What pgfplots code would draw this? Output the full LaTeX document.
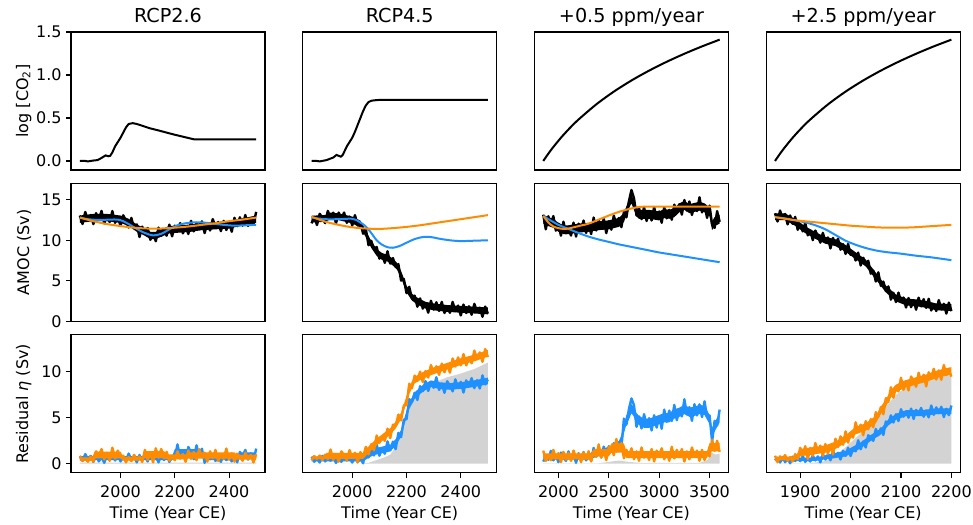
\documentclass[border=0pt]{standalone}
\usepackage{fontspec}
\setmainfont{DejaVu Sans}
\usepackage{pgfplots}
\pgfplotsset{compat=1.18}
\usepgfplotslibrary{groupplots}
\definecolor{amocBlue}{HTML}{1E90FF}
\definecolor{amocOrange}{HTML}{FF8C00}
\definecolor{shade}{HTML}{D3D3D3}
\pgfplotsset{
  panel/.style={
    scale only axis, width=145.5pt, height=103.5pt,
    axis line style={line width=0.8pt},
    tick align=outside, major tick length=3.5pt,
    every tick/.style={black, line width=0.8pt},
    xtick pos=bottom, ytick pos=left,
    ticklabel style={font=\fontsize{12}{14}\selectfont},
    xticklabel style={yshift=-2.5pt},
    /pgf/number format/assume math mode=true,
    /pgf/number format/1000 sep={},
    every axis title shift=0pt,
    title style={font=\fontsize{14.4}{17}\selectfont, at={(axis description cs:0.5,1)},
                 anchor=base, yshift=7.2pt, inner sep=0pt},
    every axis y label/.style={at={(axis description cs:-0.203,0.5)}, anchor=south,
                               rotate=90, inner sep=0pt, font=\fontsize{12}{14}\selectfont},
    every axis x label/.style={at={(axis description cs:0.5,0)}, anchor=base,
                               yshift=-34pt, inner sep=0pt, font=\fontsize{12}{14}\selectfont},
    xtick=\empty, ytick=\empty,
  },
  rowA/.style={ymin=-0.105, ymax=1.5},
  rowB/.style={ymin=0, ymax=17},
  rowC/.style={ymin=-1, ymax=14},
  colRCP/.style={xmin=1817.5, xmax=2532.5},
  colSlow/.style={xmin=1762.5, xmax=3687.5},
  colFast/.style={xmin=1832.5, xmax=2217.5},
  co2/.style={black, line width=1.5pt},
  noisy/.style={black, line width=1.8pt, line join=round},
  core/.style={fill=#1, draw=none},
  fitB/.style={amocBlue, line width=1.5pt, smooth},
  fitO/.style={amocOrange, line width=1.5pt, smooth},
  resB/.style={amocBlue, line width=1.8pt, line join=round},
  resO/.style={amocOrange, line width=1.8pt, line join=round},
  grey/.style={fill=shade, draw=none},
}
\begin{document}
\begin{tikzpicture}
\begin{groupplot}[group style={group size=4 by 3, horizontal sep=28.3pt, vertical sep=10.1pt},
                  panel]
% ---------- row 1: CO2 forcing
\nextgroupplot[rowA, colRCP, title={RCP2.6}, ylabel={log [CO\textsubscript{2}]},
  ytick={0,0.5,1,1.5},
  yticklabel style={/pgf/number format/.cd, fixed, fixed zerofill, precision=1}]
\addplot[co2] coordinates {(1850,0)(1870,0)(1880,-0.005)(1890,0.0)(1900,0.005)(1915,0.01)
  (1930,0.035)(1945,0.065)(1955,0.055)(1962,0.06)(1970,0.1)(1980,0.17)(1990,0.22)(2000,0.27)
  (2010,0.33)(2020,0.39)(2030,0.43)(2045,0.44)(2060,0.43)(2080,0.41)(2108,0.38)(2140,0.355)
  (2170,0.33)(2200,0.305)(2240,0.275)(2273,0.25)(2500,0.25)};
\nextgroupplot[rowA, colRCP, title={RCP4.5}]
\addplot[co2] coordinates {(1850,0)(1870,0)(1880,-0.005)(1905,0.01)(1930,0.04)(1942,0.07)
  (1958,0.05)(1965,0.07)(1980,0.17)(1990,0.22)(2000,0.27)(2010,0.34)(2020,0.42)(2030,0.5)
  (2040,0.58)(2050,0.645)(2060,0.685)(2070,0.70)(2080,0.705)(2100,0.71)(2500,0.71)};
\nextgroupplot[rowA, colSlow, title={+0.5 ppm/year}]
\addplot[co2, smooth] coordinates {(1850,0)(1893.75,0.0746)(1937.5,0.1441)(2025,0.27)
  (2112.5,0.3819)(2200,0.4824)(2375,0.6575)(2550,0.8065)(2725,0.9361)(2900,1.0508)
  (3075,1.1537)(3250,1.247)(3425,1.3324)(3600,1.411)};
\nextgroupplot[rowA, colFast, title={+2.5 ppm/year}]
\addplot[co2, smooth] coordinates {(1850,0)(1858.75,0.0746)(1867.5,0.1441)(1885,0.27)
  (1902.5,0.3819)(1920,0.4824)(1955,0.6575)(1990,0.8065)(2025,0.9361)(2060,1.0508)
  (2095,1.1537)(2130,1.247)(2165,1.3324)(2200,1.411)};
% ---------- row 2: AMOC and the two fits
\nextgroupplot[rowB, colRCP, ylabel={AMOC (Sv)}, ytick={0,5,10,15}]
\addplot[core=black] coordinates {(1850,13.05)(1900,13.25)(1950,13.25)(2000,13.05)(2030,12.65)
  (2060,11.95)(2090,11.45)(2110,11.05)(2130,11.05)(2150,11.35)(2180,11.75)(2220,11.85)
  (2260,11.95)(2300,12.15)(2350,12.25)(2400,12.35)(2440,12.65)(2470,12.85)(2500,13.05)
  (2500,12.15)(2470,11.95)(2440,11.75)(2400,11.45)(2350,11.35)(2300,11.25)(2260,11.05)
  (2220,10.95)(2180,10.85)(2150,10.45)(2130,10.15)(2110,10.15)(2090,10.55)(2060,11.05)
  (2030,11.75)(2000,12.15)(1950,12.35)(1900,12.35)(1850,12.15)};
\addplot[noisy] coordinates {(1850,13.05)(1860,12.01)(1870,13.49)(1880,12.54)(1890,13.12)
  (1900,11.99)(1910,13.34)(1920,12.54)(1930,13.62)(1940,12.08)(1950,12.98)(1960,12.25)
  (1970,13.6)(1980,12.16)(1990,12.87)(2000,11.79)(2010,13.08)(2020,12.39)(2030,11.57)
  (2040,12.76)(2050,11.48)(2060,11.95)(2070,10.4)(2080,11.69)(2090,10.82)(2100,11.52)
  (2110,10.06)(2120,10.86)(2130,9.88)(2140,11.56)(2150,10.54)(2160,11.23)(2170,10.57)
  (2180,11.93)(2190,10.49)(2200,11.8)(2210,11.31)(2220,12.12)(2230,10.86)(2240,11.72)
  (2250,10.78)(2260,12.4)(2270,11.1)(2280,12.14)(2290,11.38)(2300,12.33)(2310,10.89)
  (2320,12.11)(2330,11.21)(2340,12.61)(2350,11.62)(2360,12.25)(2370,11.13)(2380,12.39)
  (2390,11.27)(2400,12.17)(2410,11.05)(2420,12.77)(2430,11.74)(2440,12.83)(2450,11.8)
  (2460,13.11)(2470,11.77)(2480,12.63)(2490,12.01)(2500,13.5)};
\addplot[fitB] coordinates {(1850,12.8)(1880,12.6)(1920,12.5)(1960,12.55)(1990,12.55)
  (2010,12.35)(2030,12.0)(2060,11.4)(2090,10.9)(2120,10.6)(2150,10.8)(2180,11.35)(2210,11.85)
  (2240,12.1)(2270,12.2)(2300,12.2)(2340,12.05)(2380,11.9)(2420,11.8)(2460,11.85)(2500,11.9)};
\addplot[fitO] coordinates {(1850,12.8)(1900,12.35)(1950,12.0)(2000,11.75)(2050,11.55)
  (2100,11.45)(2150,11.45)(2200,11.55)(2250,11.7)(2300,11.9)(2350,12.1)(2400,12.35)
  (2450,12.55)(2500,12.8)};
\nextgroupplot[rowB, colRCP]
\addplot[core=black] coordinates {(1850,13.02)(1900,13.12)(1920,13.42)(1950,13.32)(2000,12.92)
  (2030,12.42)(2050,11.22)(2070,9.92)(2090,8.92)(2110,8.42)(2130,8.22)(2150,7.72)(2165,7.22)
  (2180,6.22)(2200,4.42)(2220,3.42)(2240,2.92)(2270,2.42)(2300,2.22)(2350,2.02)(2400,1.92)
  (2450,1.82)(2500,1.72)(2500,0.88)(2450,0.98)(2400,1.08)(2350,1.18)(2300,1.38)(2270,1.58)
  (2240,2.08)(2220,2.58)(2200,3.58)(2180,5.38)(2165,6.38)(2150,6.88)(2130,7.38)(2110,7.58)
  (2090,8.08)(2070,9.08)(2050,10.38)(2030,11.58)(2000,12.08)(1950,12.48)(1920,12.58)
  (1900,12.28)(1850,12.18)};
\addplot[noisy] coordinates {(1850,12.09)(1860,12.88)(1870,11.88)(1880,13.26)(1890,12.77)
  (1900,12.11)(1910,13.62)(1920,12.75)(1930,13.4)(1940,12.08)(1950,13.41)(1960,12.65)
  (1970,13.42)(1980,12.15)(1990,12.92)(2000,11.82)(2010,13.1)(2020,11.83)(2030,12.17)
  (2040,10.81)(2050,11.4)(2060,9.39)(2070,9.93)(2080,8.92)(2090,9.18)(2100,7.74)(2110,8.26)
  (2120,7.22)(2130,8.65)(2140,7.13)(2150,7.81)(2160,6.72)(2170,7.07)(2180,5.04)(2190,5.24)
  (2200,3.49)(2210,4.27)(2220,2.83)(2230,3.18)(2240,1.82)(2250,2.84)(2260,1.58)(2270,2.26)
  (2280,1.08)(2290,2.55)(2300,1.46)(2310,2.36)(2320,1.3)(2330,2.41)(2340,1.05)(2350,1.77)
  (2360,1.07)(2370,2.41)(2380,1.29)(2390,1.95)(2400,0.74)(2410,2.08)(2420,1.04)(2430,1.87)
  (2440,0.83)(2450,2.17)(2460,1.21)(2470,1.7)(2480,0.58)(2490,1.83)(2500,0.96)};
\addplot[fitB] coordinates {(1850,12.8)(1900,12.6)(1950,12.6)(2000,12.65)(2025,12.3)
  (2050,11.7)(2070,10.9)(2090,10.0)(2110,9.45)(2130,9.15)(2150,9.08)(2175,9.3)(2200,9.7)
  (2230,10.15)(2260,10.4)(2290,10.4)(2320,10.2)(2360,10.0)(2400,9.9)(2450,9.95)(2500,10.0)};
\addplot[fitO] coordinates {(1850,12.9)(1900,12.3)(1950,11.9)(2000,11.6)(2050,11.45)
  (2100,11.4)(2150,11.5)(2200,11.65)(2250,11.85)(2300,12.1)(2350,12.35)(2400,12.6)
  (2450,12.85)(2500,13.1)};
\nextgroupplot[rowB, colSlow]
\addplot[core=black] coordinates {(1850,13.15)(1900,12.85)(1950,12.65)(2000,12.15)(2050,11.85)
  (2100,11.85)(2150,11.95)(2200,12.05)(2300,12.15)(2400,12.35)(2500,12.45)(2600,12.75)
  (2650,13.35)(2700,15.05)(2725,15.65)(2750,14.85)(2775,14.05)(2800,13.75)(2900,13.75)
  (3000,13.55)(3050,13.85)(3100,13.75)(3150,13.95)(3200,14.55)(3250,14.85)(3300,14.45)
  (3400,14.75)(3450,14.55)(3500,14.05)(3525,12.35)(3550,12.85)(3600,13.15)
  (3600,12.05)(3550,11.75)(3525,11.25)(3500,12.95)(3450,13.45)(3400,13.65)(3300,13.35)
  (3250,13.75)(3200,13.45)(3150,12.85)(3100,12.65)(3050,12.75)(3000,12.45)(2900,12.65)
  (2800,12.65)(2775,12.95)(2750,13.75)(2725,14.55)(2700,13.95)(2650,12.25)(2600,11.65)
  (2500,11.35)(2400,11.25)(2300,11.05)(2200,10.95)(2150,10.85)(2100,10.75)(2050,10.75)
  (2000,11.05)(1950,11.55)(1900,11.75)(1850,12.05)};
\addplot[noisy] coordinates {(1850,13.15)(1875,11.35)(1900,12.96)(1925,11.98)(1950,12.98)
  (1975,11.19)(2000,12.04)(2025,10.57)(2050,12.29)(2075,10.86)(2100,11.52)(2125,10.58)
  (2150,12.17)(2175,10.46)(2200,12.05)(2225,11.41)(2250,12.43)(2275,10.91)(2300,11.93)
  (2325,10.77)(2350,12.8)(2375,11.2)(2400,12.46)(2425,11.49)(2450,12.62)(2475,10.88)
  (2500,12.34)(2525,11.31)(2550,13.04)(2575,11.9)(2600,12.75)(2625,11.62)(2650,13.46)
  (2675,12.83)(2700,14.83)(2725,16.2)(2750,15.18)(2775,13.06)(2800,13.97)(2825,12.6)
  (2850,14.09)(2875,12.38)(2900,13.42)(2925,12.44)(2950,14.1)(2975,12.67)(3000,13.55)
  (3025,12.16)(3050,14.07)(3075,12.7)(3100,13.75)(3125,12.53)(3150,14.39)(3175,13.48)
  (3200,14.44)(3225,13.16)(3250,14.96)(3275,13.66)(3300,14.78)(3325,13.12)(3350,14.32)
  (3375,13.6)(3400,15.3)(3425,13.44)(3450,14.33)(3475,12.76)(3500,14.27)(3525,11.91)
  (3550,11.53)(3575,13.59)(3600,12.27)};
\addplot[fitB] coordinates {(1850,13.0)(1900,12.6)(1950,12.25)(2000,11.9)(2100,11.4)
  (2200,10.9)(2300,10.45)(2400,10.1)(2500,9.8)(2600,9.5)(2700,9.25)(2800,9.0)(2900,8.75)
  (3000,8.5)(3100,8.3)(3200,8.1)(3300,7.9)(3400,7.7)(3500,7.5)(3600,7.3)};
\addplot[fitO] coordinates {(1850,13.0)(1900,12.2)(1950,11.7)(2000,11.5)(2050,11.4)
  (2100,11.45)(2200,11.75)(2300,12.05)(2400,12.55)(2500,13.05)(2600,13.5)(2700,13.85)
  (2800,14.1)(2900,14.15)(3000,14.15)(3200,14.15)(3400,14.15)(3600,14.15)};
\nextgroupplot[rowB, colFast]
\addplot[core=black] coordinates {(1850,13.32)(1870,13.32)(1890,12.62)(1910,11.72)(1930,11.02)
  (1950,10.42)(1970,10.12)(1990,9.42)(2010,8.52)(2030,7.62)(2050,6.02)(2070,4.42)(2090,3.32)
  (2110,2.82)(2130,2.72)(2150,2.52)(2170,2.22)(2200,2.12)(2200,1.28)(2170,1.38)(2150,1.68)
  (2130,1.88)(2110,1.98)(2090,2.48)(2070,3.58)(2050,5.18)(2030,6.78)(2010,7.68)(1990,8.58)
  (1970,9.28)(1950,9.58)(1930,10.18)(1910,10.88)(1890,11.78)(1870,12.48)(1850,12.48)};
\addplot[noisy] coordinates {(1850,13.33)(1855,12.31)(1860,13.67)(1865,12.73)(1870,13.24)
  (1875,11.96)(1880,13.06)(1885,12.04)(1890,12.88)(1895,11.3)(1900,11.92)(1905,11.1)
  (1910,12.15)(1915,10.61)(1920,11.21)(1925,10.02)(1930,11.2)(1935,10.54)(1940,9.71)
  (1945,10.92)(1950,9.75)(1955,10.35)(1960,9.0)(1965,10.29)(1970,9.53)(1975,10.2)(1980,8.84)
  (1985,9.52)(1990,8.32)(1995,9.55)(2000,8.21)(2005,8.49)(2010,7.51)(2015,8.48)(2020,6.89)
  (2025,7.85)(2030,7.12)(2035,7.48)(2040,5.89)(2045,6.26)(2050,4.92)(2055,6.05)(2060,4.38)
  (2065,4.91)(2070,3.75)(2075,4.32)(2080,2.69)(2085,3.52)(2090,2.39)(2095,3.55)(2100,2.48)
  (2105,2.95)(2110,1.72)(2115,2.89)(2120,1.76)(2125,2.58)(2130,1.45)(2135,2.93)(2140,1.86)
  (2145,2.75)(2150,1.68)(2155,2.79)(2160,1.36)(2165,2.05)(2170,1.29)(2175,2.63)(2180,1.52)
  (2185,2.18)(2190,0.97)(2195,2.32)(2200,1.28)};
\addplot[fitB] coordinates {(1850,12.85)(1870,12.7)(1890,12.45)(1910,12.2)(1930,11.85)
  (1950,11.35)(1970,10.65)(1990,9.95)(2010,9.45)(2030,9.05)(2050,8.75)(2070,8.55)(2100,8.35)
  (2130,8.1)(2160,7.9)(2200,7.55)};
\addplot[fitO] coordinates {(1850,12.85)(1875,12.6)(1900,12.4)(1925,12.25)(1950,12.1)
  (1975,11.95)(2000,11.8)(2025,11.7)(2050,11.6)(2075,11.55)(2100,11.55)(2125,11.6)
  (2150,11.7)(2175,11.8)(2200,11.9)};
% ---------- row 3: residuals
\nextgroupplot[rowC, colRCP, ylabel={Residual {\itshape η} (Sv)}, ytick={0,5,10},
  xtick={2000,2200,2400}, xlabel={Time (Year CE)}]
\addplot[grey] coordinates {(1850,0)(1850,0.12)(2500,0.12)(2500,0)} \closedcycle;
\addplot[core=amocBlue] coordinates {(1850,0.82)(2190,0.82)(2200,1.58)(2300,1.58)(2310,0.82)
  (2430,0.82)(2440,1.24)(2500,1.24)(2500,0.56)(2440,0.56)(2430,0.38)(2310,0.38)(2300,0.72)
  (2200,0.72)(2190,0.38)(1850,0.38)};
\addplot[resB] coordinates {(1850,0.8)(1860,0.3)(1870,1.05)(1880,0.5)(1890,0.85)(1900,0.2)
  (1910,0.9)(1920,0.25)(1930,0.75)(1940,0.1)(1950,1.0)(1960,0.4)(1970,0.95)(1980,0.35)
  (1990,1.05)(2000,0.25)(2010,0.7)(2020,0.3)(2030,1.1)(2040,0.45)(2050,0.85)(2060,0.15)
  (2070,0.95)(2080,0.35)(2090,0.85)(2100,0.25)(2110,1.05)(2120,0.5)(2130,0.8)(2140,0.15)
  (2150,0.9)(2160,0.4)(2170,1.0)(2180,0.2)(2190,0.7)(2200,0.68)(2210,2.1)(2220,0.58)
  (2230,1.44)(2240,0.3)(2250,1.82)(2260,1.25)(2270,0.49)(2280,2.0)(2290,0.87)(2300,1.63)
  (2310,0.1)(2320,0.9)(2330,0.5)(2340,1.0)(2350,0.3)(2360,0.8)(2370,0.2)(2380,1.05)
  (2390,0.4)(2400,0.7)(2410,0.25)(2420,0.95)(2430,0.15)(2440,1.28)(2450,0.83)(2460,1.5)
  (2470,0.45)(2480,1.13)(2490,0.3)(2500,1.65)};
\addplot[core=amocOrange] coordinates {(1850,0.68)(1895,0.68)(1905,1.31)(2000,1.31)(2010,0.75)
  (2080,0.75)(2090,1.38)(2160,1.38)(2170,1.02)(2240,1.02)(2250,1.24)(2420,1.24)(2430,0.95)
  (2500,0.95)(2500,0.45)(2430,0.45)(2420,0.56)(2250,0.56)(2240,0.48)(2170,0.48)(2160,0.62)
  (2090,0.62)(2080,0.35)(2010,0.35)(2000,0.59)(1905,0.59)(1895,0.32)(1850,0.32)};
\addplot[resO] coordinates {(1850,0.86)(1860,0.34)(1870,0.58)(1880,0.22)(1890,0.78)
  (1900,0.23)(1910,1.35)(1920,0.87)(1930,1.59)(1940,0.47)(1950,1.19)(1960,0.31)(1970,1.75)
  (1980,0.55)(1990,1.43)(2000,0.71)(2010,0.87)(2020,0.15)(2030,0.73)(2040,0.28)(2050,0.96)
  (2060,0.46)(2070,0.78)(2080,0.19)(2090,1.51)(2100,0.41)(2110,1.26)(2120,0.15)(2130,1.68)
  (2140,0.66)(2150,1.6)(2160,0.58)(2170,1.29)(2180,0.33)(2190,0.87)(2200,0.39)(2210,1.35)
  (2220,0.57)(2230,1.05)(2240,0.21)(2250,1.43)(2260,0.53)(2270,1.28)(2280,0.38)(2290,1.58)
  (2300,0.75)(2310,1.2)(2320,0.23)(2330,1.35)(2340,0.6)(2350,1.5)(2360,0.3)(2370,1.05)
  (2380,0.53)(2390,1.65)(2400,0.45)(2410,1.13)(2420,0.23)(2430,1.09)(2440,0.76)(2450,0.32)
  (2460,1.2)(2470,0.54)(2480,0.98)(2490,0.15)(2500,1.03)};
\nextgroupplot[rowC, colRCP, xtick={2000,2200,2400}, xlabel={Time (Year CE)}]
\addplot[grey] coordinates {(1850,0)(1850,0.02)(2040,0.02)(2060,0.1)(2080,0.3)(2100,0.5)
  (2120,0.7)(2140,1.0)(2160,1.8)(2180,3.5)(2200,5.5)(2220,6.8)(2250,7.8)(2300,8.8)(2350,9.4)
  (2400,9.8)(2450,10.3)(2500,11.0)(2500,0)} \closedcycle;
\addplot[core=amocBlue] coordinates {(1850,0.63)(2040,0.63)(2050,1.16)(2060,1.36)(2080,1.66)
  (2110,1.86)(2140,2.06)(2160,2.66)(2180,3.66)(2190,4.76)(2200,5.76)(2210,6.66)(2230,7.76)
  (2260,8.56)(2290,9.06)(2320,8.86)(2360,8.76)(2400,8.86)(2450,9.06)(2500,9.36)
  (2500,8.64)(2450,8.34)(2400,8.14)(2360,8.04)(2320,8.14)(2290,8.34)(2260,7.84)(2230,7.04)
  (2210,5.94)(2200,5.04)(2190,4.04)(2180,2.94)(2160,1.94)(2140,1.34)(2110,1.14)(2080,0.94)
  (2060,0.64)(2050,0.44)(2040,0.27)(1850,0.27)};
\addplot[resB] coordinates {(1850,0.77)(1860,0.21)(1870,0.57)(1880,0.13)(1890,0.85)
  (1900,0.25)(1910,0.69)(1920,0.33)(1930,0.73)(1940,0.09)(1950,0.61)(1960,0.21)(1970,0.81)
  (1980,0.37)(1990,0.65)(2000,0.13)(2010,0.69)(2020,0.17)(2030,0.57)(2040,0.05)(2050,1.36)
  (2060,0.68)(2070,1.71)(2080,0.9)(2090,2.09)(2100,0.87)(2110,1.66)(2120,1.09)(2130,2.43)
  (2140,1.46)(2150,2.4)(2160,1.58)(2170,3.36)(2180,2.9)(2190,4.8)(2200,4.84)(2210,7.02)
  (2220,6.69)(2230,7.72)(2240,6.93)(2250,8.43)(2260,7.88)(2270,8.99)(2280,7.91)(2290,8.86)
  (2300,8.25)(2310,9.4)(2320,8.02)(2330,8.69)(2340,7.71)(2350,8.96)(2360,8.48)(2370,7.87)
  (2380,9.17)(2390,8.24)(2400,8.9)(2410,7.74)(2420,9.06)(2430,8.46)(2440,9.3)(2450,8.22)
  (2460,9.08)(2470,8.18)(2480,9.6)(2490,8.62)(2500,9.16)};
\addplot[core=amocOrange] coordinates {(1850,0.79)(1895,0.79)(1905,1.17)(2040,1.17)(2050,1.56)
  (2060,1.86)(2080,2.46)(2100,2.96)(2120,3.41)(2140,3.86)(2160,4.56)(2180,5.56)(2200,7.36)
  (2210,8.26)(2220,8.96)(2230,9.46)(2260,9.96)(2300,10.46)(2350,10.96)(2400,11.46)
  (2450,11.86)(2500,12.36)(2500,11.64)(2450,11.14)(2400,10.74)(2350,10.24)(2300,9.74)
  (2260,9.24)(2230,8.74)(2220,8.24)(2210,7.54)(2200,6.64)(2180,4.84)(2160,3.84)(2140,3.14)
  (2120,2.69)(2100,2.24)(2080,1.74)(2060,1.14)(2050,0.84)(2040,0.53)(1905,0.53)(1895,0.51)
  (1850,0.51)};
\addplot[resO] coordinates {(1850,0.38)(1860,0.83)(1870,0.53)(1880,0.89)(1890,0.41)
  (1900,0.99)(1910,0.5)(1920,1.55)(1930,0.43)(1940,1.06)(1950,0.22)(1960,1.34)(1970,0.92)
  (1980,0.36)(1990,1.48)(2000,0.64)(2010,1.2)(2020,0.15)(2030,1.27)(2040,0.71)(2050,1.84)
  (2060,1.02)(2070,2.12)(2080,1.46)(2090,3.07)(2100,2.28)(2110,2.96)(2120,2.49)(2130,3.81)
  (2140,2.78)(2150,4.25)(2160,4.12)(2170,5.34)(2180,4.72)(2190,6.34)(2200,6.36)(2210,8.7)
  (2220,8.2)(2230,9.58)(2240,9.01)(2250,10.01)(2260,8.88)(2270,10.07)(2280,9.37)(2290,10.72)
  (2300,9.94)(2310,10.6)(2320,9.66)(2330,10.88)(2340,9.94)(2350,10.84)(2360,9.9)(2370,11.44)
  (2380,10.58)(2390,11.56)(2400,10.7)(2410,11.92)(2420,10.69)(2430,11.51)(2440,10.92)
  (2450,12.3)(2460,11.36)(2470,12.1)(2480,11.08)(2490,12.46)(2500,11.6)};
\nextgroupplot[rowC, colSlow, xtick={2000,2500,3000,3500}, xlabel={Time (Year CE)}]
\addplot[grey] coordinates {(1850,0)(1850,0.05)(2400,0.05)(2500,0.2)(2600,0.35)(2700,0.2)
  (2800,0.1)(3400,0.1)(3480,0.4)(3520,1.2)(3560,1.0)(3600,1.1)(3600,0)} \closedcycle;
\addplot[core=amocBlue] coordinates {(1850,1.04)(2300,1.04)(2350,1.36)(2400,1.56)(2450,1.66)
  (2500,1.86)(2550,1.96)(2600,2.46)(2625,3.1)(2650,4.3)(2675,5.3)(2700,5.8)(2725,6.5)
  (2750,6.1)(2775,5.5)(2800,5.2)(2850,4.9)(2900,4.9)(2950,5.1)(3000,5.3)(3050,5.5)(3100,5.5)
  (3150,5.9)(3200,6.1)(3250,6.4)(3300,6.1)(3350,6.2)(3400,6.4)(3450,6.3)(3475,5.8)(3500,5.3)
  (3525,3.9)(3550,4.5)(3600,5.5)(3600,4.5)(3550,3.5)(3525,2.9)(3500,4.3)(3475,4.8)(3450,5.3)
  (3400,5.4)(3350,5.2)(3300,5.1)(3250,5.4)(3200,5.1)(3150,4.9)(3100,4.5)(3050,4.5)(3000,4.3)
  (2950,4.1)(2900,3.9)(2850,3.9)(2800,4.2)(2775,4.5)(2750,5.1)(2725,5.5)(2700,4.8)(2675,4.3)
  (2650,3.3)(2625,2.1)(2600,1.74)(2550,1.24)(2500,1.14)(2450,0.94)(2400,0.84)(2350,0.64)
  (2300,0.46)(1850,0.46)};
\addplot[resB] coordinates {(1850,0.23)(1875,0.88)(1900,0.43)(1925,1.4)(1950,0.36)
  (1975,0.95)(2000,0.17)(2025,1.21)(2050,0.82)(2075,0.3)(2100,1.34)(2125,0.56)(2150,1.08)
  (2175,0.1)(2200,1.14)(2225,0.62)(2250,1.27)(2275,0.36)(2300,1.01)(2325,0.34)(2350,1.72)
  (2375,0.78)(2400,1.36)(2425,0.69)(2450,1.86)(2475,0.68)(2500,1.9)(2525,1.47)(2550,2.24)
  (2575,1.32)(2600,2.34)(2625,1.72)(2650,4.9)(2675,4.25)(2700,5.96)(2725,7.1)(2750,6.37)
  (2775,4.01)(2800,5.14)(2825,3.84)(2850,5.39)(2875,4.18)(2900,4.95)(2925,3.62)(2950,5.26)
  (2975,3.93)(3000,5.13)(3025,3.8)(3050,5.88)(3075,4.56)(3100,5.77)(3125,4.65)(3150,6.39)
  (3175,4.73)(3200,5.82)(3225,5.14)(3250,7.0)(3275,5.37)(3300,6.15)(3325,4.66)(3350,6.47)
  (3375,5.25)(3400,6.45)(3425,5.08)(3450,6.79)(3475,5.08)(3500,5.24)(3525,2.41)(3550,4.66)
  (3575,4.16)(3600,5.88)};
\addplot[core=amocOrange] coordinates {(1850,1.12)(2325,1.12)(2350,1.6)(2500,1.6)(2525,2.2)
  (2650,2.2)(2675,1.38)(3475,1.38)(3500,2.25)(3600,2.25)(3600,1.35)(3500,1.35)(3475,0.62)
  (2675,0.62)(2650,1.2)(2525,1.2)(2500,0.8)(2350,0.8)(2325,0.48)(1850,0.48)};
\addplot[resO] coordinates {(1850,1.43)(1875,0.31)(1900,0.94)(1925,0.38)(1950,1.5)
  (1975,0.59)(2000,1.15)(2025,0.17)(2050,1.29)(2075,0.45)(2100,1.15)(2125,0.31)(2150,1.43)
  (2175,0.66)(2200,1.08)(2225,0.17)(2250,1.22)(2275,0.52)(2300,1.36)(2325,0.24)(2350,1.38)
  (2375,0.75)(2400,2.1)(2425,0.66)(2450,1.47)(2475,0.39)(2500,1.83)(2525,1.81)(2550,0.93)
  (2575,2.69)(2600,1.37)(2625,2.25)(2650,0.6)(2675,1.51)(2700,0.83)(2725,1.68)(2750,0.49)
  (2775,1.34)(2800,0.32)(2825,1.77)(2850,0.66)(2875,1.17)(2900,0.41)(2925,1.6)(2950,0.24)
  (2975,1.43)(3000,0.92)(3025,1.68)(3050,0.49)(3075,1.26)(3100,0.32)(3125,1.85)(3150,0.58)
  (3175,1.51)(3200,0.75)(3225,1.6)(3250,0.24)(3275,1.34)(3300,0.49)(3325,1.77)(3350,0.83)
  (3375,1.43)(3400,0.32)(3425,1.51)(3450,0.41)(3475,1.26)(3500,0.8)(3525,2.6)(3550,1.4)
  (3575,2.5)(3600,1.3)};
\nextgroupplot[rowC, colFast, xtick={1900,2000,2100,2200}, xlabel={Time (Year CE)}]
\addplot[grey] coordinates {(1850,0)(1850,0.02)(1920,0.05)(1950,0.3)(1970,0.9)(1990,1.8)
  (2010,2.8)(2030,3.8)(2050,4.8)(2070,6.2)(2090,7.5)(2110,8.3)(2130,8.8)(2150,9.1)(2180,9.5)
  (2200,9.8)(2200,0)} \closedcycle;
\addplot[core=amocBlue] coordinates {(1850,0.63)(1930,0.66)(1950,0.92)(1960,1.07)(1990,1.4)
  (2000,1.72)(2020,2.32)(2040,3.12)(2060,3.82)(2075,4.82)(2090,5.42)(2110,5.82)(2140,5.82)
  (2170,6.02)(2200,6.02)(2200,5.38)(2170,5.38)(2140,5.18)(2110,5.18)(2090,4.78)(2075,4.18)
  (2060,3.18)(2040,2.48)(2020,1.68)(2000,1.08)(1990,0.8)(1960,0.53)(1950,0.48)(1930,0.3)
  (1850,0.27)};
\addplot[resB] coordinates {(1850,0.37)(1855,0.65)(1860,0.13)(1865,0.69)(1870,0.17)
  (1875,0.57)(1880,0.05)(1885,0.77)(1890,0.29)(1895,0.76)(1900,0.28)(1905,0.84)(1910,0.2)
  (1915,0.56)(1920,0.24)(1925,0.88)(1930,0.36)(1935,0.8)(1940,0.15)(1945,1.0)(1950,0.45)
  (1955,1.0)(1960,0.38)(1965,1.39)(1970,0.78)(1975,1.19)(1980,0.46)(1985,1.41)(1990,0.86)
  (1995,1.73)(2000,0.84)(2005,1.69)(2010,1.35)(2015,2.55)(2020,1.58)(2025,2.41)(2030,1.77)
  (2035,3.09)(2040,2.87)(2045,2.49)(2050,3.78)(2055,3.11)(2060,3.85)(2065,3.13)(2070,4.59)
  (2075,4.36)(2080,5.26)(2085,4.48)(2090,5.38)(2095,4.64)(2100,5.93)(2105,5.12)(2110,5.64)
  (2115,5.01)(2120,5.99)(2125,4.87)(2130,5.85)(2135,5.43)(2140,6.06)(2145,5.11)(2150,5.78)
  (2155,5.04)(2160,6.33)(2165,5.32)(2170,6.12)(2175,5.49)(2180,6.19)(2185,5.07)(2190,5.98)
  (2195,5.28)(2200,6.33)};
\addplot[core=amocOrange] coordinates {(1850,0.75)(1890,0.8)(1900,1.6)(1950,2.0)(1970,2.4)
  (1990,3.1)(2010,4.0)(2030,4.4)(2050,5.2)(2060,6.2)(2070,7.0)(2080,8.0)(2090,8.6)(2110,9.1)
  (2130,9.4)(2150,9.7)(2170,10.1)(2190,10.4)(2200,10.5)(2200,9.7)(2190,9.6)(2170,9.3)
  (2150,8.9)(2130,8.6)(2110,8.3)(2090,7.8)(2080,7.2)(2070,6.2)(2060,5.4)(2050,4.4)(2030,3.6)
  (2010,3.2)(1990,2.3)(1970,1.6)(1950,1.2)(1900,0.8)(1890,0.4)(1850,0.35)};
\addplot[resO] coordinates {(1850,0.87)(1855,0.16)(1860,0.8)(1865,0.54)(1870,0.94)
  (1875,0.32)(1880,0.73)(1885,0.24)(1890,1.05)(1895,0.5)(1900,1.74)(1905,0.97)(1910,1.91)
  (1915,0.51)(1920,1.72)(1925,0.86)(1930,2.25)(1935,1.3)(1940,1.97)(1945,0.84)(1950,2.14)
  (1955,1.07)(1960,2.07)(1965,1.0)(1970,2.72)(1975,1.82)(1980,2.98)(1985,2.07)(1990,3.51)
  (1995,2.29)(2000,3.33)(2005,2.84)(2010,4.5)(2015,3.43)(2020,4.25)(2025,3.09)(2030,4.63)
  (2035,3.75)(2040,4.85)(2045,3.97)(2050,5.61)(2055,5.12)(2060,6.16)(2065,5.39)(2070,7.14)
  (2075,6.74)(2080,8.32)(2085,7.18)(2090,8.38)(2095,7.87)(2100,9.35)(2105,8.04)(2110,8.97)
  (2115,7.97)(2120,9.48)(2125,9.01)(2130,8.37)(2135,9.89)(2140,8.88)(2145,9.67)(2150,8.4)
  (2155,9.94)(2160,9.32)(2165,10.32)(2170,9.16)(2175,10.14)(2180,9.13)(2185,10.73)
  (2190,9.64)(2195,10.23)(2200,9.47)};
\end{groupplot}
\pgfresetboundingbox
\path[use as bounding box] ([xshift=-53.25pt,yshift=24pt]group c1r1.north west)
  rectangle ++(729.75pt,-393pt);
\end{tikzpicture}
\end{document}
